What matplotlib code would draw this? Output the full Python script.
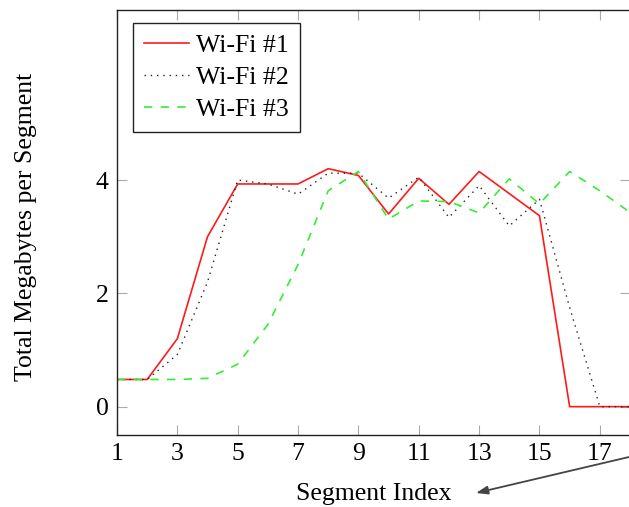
import numpy as np
import matplotlib
matplotlib.use("Agg")
import matplotlib.pyplot as plt

# valeurs
segments = np.arange(1, 19)
wifi1 = [0.48, 0.48, 1.2, 3.0, 3.93, 3.93, 3.93, 4.2, 4.08, 3.4, 4.03, 3.57, 4.15, 3.76, 3.37, 0.0, 0.0, 0.0]
wifi2 = [0.48, 0.48, 0.92, 2.2, 4.0, 3.93, 3.75, 4.12, 4.12, 3.68, 4.05, 3.34, 3.9, 3.19, 3.66, 1.75, 0.0, 0.0]
wifi3 = [0.48, 0.48, 0.48, 0.5, 0.75, 1.45, 2.51, 3.81, 4.15, 3.31, 3.63, 3.62, 3.42, 4.02, 3.58, 4.15, 3.81, 3.43]
labels = ["Wi-Fi #1", "Wi-Fi #2", "Wi-Fi #3"]
xticks = [1, 3, 5, 7, 9, 11, 13, 15, 17]
yticks = [0, 2, 4]

plt.rcParams['font.family'] = ['Liberation Serif', 'DejaVu Serif']
fs = 18.5

W, H = 629, 507
fig = plt.figure(figsize=(W / 100, H / 100), dpi=100)
# l'axe depasse un peu a droite : l'image d'origine est coupee
ax = fig.add_axes([117 / W, 1 - 435 / H, 513 / W, 425 / H])

ax.plot(segments, wifi1, color='#ff1a1a', lw=1.2, label=labels[0])
ax.plot(segments, wifi2, color='#222222', lw=1.0, linestyle=(0, (1, 3.5)), label=labels[1])
ax.plot(segments, wifi3, color='#33ee33', lw=1.2, linestyle=(0, (5, 5)), label=labels[2])

ax.set_xlim(1, 18)
ax.set_ylim(-0.5, 7)
ax.set_xticks(xticks)
ax.set_yticks(yticks)
ax.tick_params(direction='in', length=7.5, width=0.8, color='#aaaaaa',
               top=True, right=True, pad=6, labelsize=fs)
for s in ax.spines.values():
    s.set_linewidth(1.0)
    s.set_color('#222222')

ax.set_xlabel('Segment Index', fontsize=fs)
ax.set_ylabel('Total Megabytes per Segment', fontsize=fs)
ax.xaxis.set_label_coords(0.5, -0.113)
ax.yaxis.set_label_coords(-0.155, 0.49)

leg = ax.legend(loc='upper left', bbox_to_anchor=(133 / W, 1 - 23 / H),
                bbox_transform=fig.transFigure, borderaxespad=0,
                fancybox=False, framealpha=1, edgecolor='#222222',
                handlelength=1.75, handletextpad=0.3, labelspacing=0.36,
                borderpad=0.42, fontsize=fs)
leg.get_frame().set_linewidth(1.0)

# fleche venant de la droite (hors cadre)
ax.annotate('', xy=(476 / W, 1 - 493 / H), xycoords='figure fraction',
            xytext=(680 / W, 1 - 445 / H), textcoords='figure fraction',
            arrowprops=dict(arrowstyle='-|>,head_length=0.7,head_width=0.25',
                            color='#444444', lw=1.3, shrinkA=0, shrinkB=0),
            annotation_clip=False)

fig.savefig('out.png', dpi=100)
